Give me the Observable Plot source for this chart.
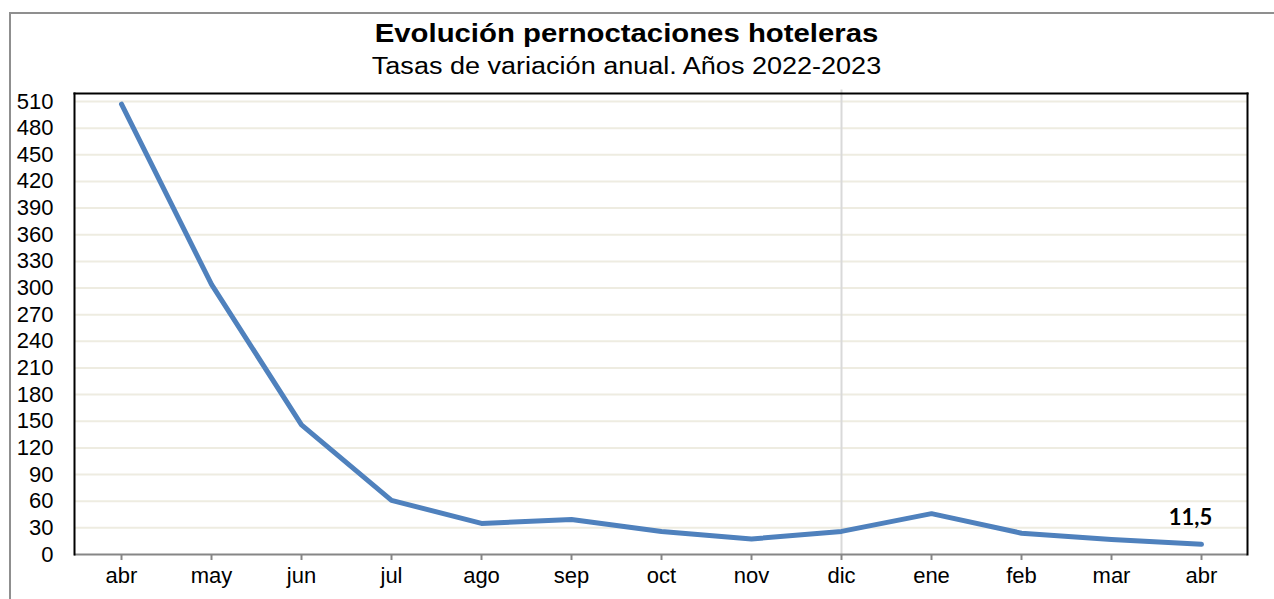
<!DOCTYPE html>
<html>
<head>
<meta charset="utf-8">
<script src="https://cdn.jsdelivr.net/npm/d3@7"></script>
<script src="https://cdn.jsdelivr.net/npm/@observablehq/plot@0.6"></script>
<style>
  html, body { margin: 0; padding: 0; background: #fff; }
  #wrap { position: relative; width: 1274px; height: 599px; overflow: hidden; font-family: "Liberation Sans", Arial, sans-serif; }
  #border { position: absolute; left: 9px; top: 12px; width: 1300px; height: 700px; border-left: 2px solid #8f8f8f; border-top: 2px solid #8f8f8f; box-sizing: border-box; }
  .ttl { position: absolute; left: 0; width: 1253px; text-align: center; color: #000; line-height: 1; white-space: nowrap; transform: scaleX(1.15); transform-origin: 626.5px 0; }
  #title { top: 21px; font-weight: bold; font-size: 25.5px; }
  #subtitle { top: 55px; font-size: 23.5px; }
  #chart { position: absolute; left: 0; top: 80px; }
</style>
</head>
<body>
<div id="wrap">
  <div id="border"></div>
  <div id="title" class="ttl">Evolución pernoctaciones hoteleras</div>
  <div id="subtitle" class="ttl">Tasas de variación anual. Años 2022-2023</div>
  <div id="chart"></div>
</div>
<script>
const months = ["abr","may","jun","jul","ago","sep","oct","nov","dic","ene","feb","mar","abr"];
const values = [507, 304, 146, 61, 35, 39.5, 26, 17.5, 26, 46, 24, 17, 11.5];
const yTicks = d3.range(0, 511, 30);
const lastLabel = "11,5";
const yearBreakIndex = 8;

const data = months.map((m, i) => ({i, m, v: values[i]}));

const plot = Plot.plot({
  width: 1274,
  height: 519,
  marginTop: 13,
  marginBottom: 45,
  marginLeft: 74,
  marginRight: 27,
  style: {fontFamily: "'Liberation Sans', Arial, sans-serif", fontSize: "22px", color: "#000", background: "transparent", overflow: "visible"},
  x: {type: "point", domain: d3.range(months.length), padding: 0.5, label: null},
  y: {domain: [0, 519], label: null, ticks: yTicks},
  marks: [
    Plot.gridY(yTicks.filter(t => t > 0), {stroke: "#eeece1", strokeOpacity: 1, strokeWidth: 2}),
    Plot.ruleX([yearBreakIndex], {stroke: "#d9d9d9", strokeWidth: 2, y1: 0, y2: 523, clip: false}),
    Plot.axisY(yTicks, {tickSize: 0, tickPadding: 21, fontSize: 22}),
    Plot.axisX({tickSize: 6, tickPadding: 7, stroke: "#868686", strokeWidth: 2, fontSize: 22, tickFormat: i => months[i]}),
    Plot.ruleY([0], {stroke: "#868686", strokeWidth: 2}),
    Plot.frame({anchor: "left", stroke: "#000", strokeWidth: 2}),
    Plot.frame({anchor: "top", stroke: "#000", strokeWidth: 2}),
    Plot.frame({anchor: "right", stroke: "#000", strokeWidth: 2}),
    Plot.line(data, {x: "i", y: "v", stroke: "#4f81bd", strokeWidth: 5, strokeLinejoin: "round"}),
    Plot.text([data[data.length - 1]], {x: "i", y: "v", text: () => lastLabel, dy: -26, dx: -11, fontWeight: "bold", fontSize: 22, fill: "#000", fontFamily: "Lato, 'Open Sans', sans-serif"})
  ]
});
document.getElementById("chart").appendChild(plot);
</script>
</body>
</html>
